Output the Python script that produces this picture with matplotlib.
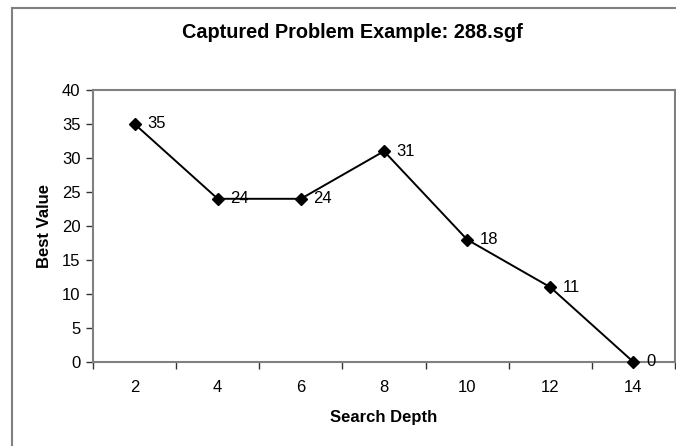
import matplotlib.pyplot as plt
import numpy as np
from matplotlib.lines import Line2D

# Data
depths = ['2', '4', '6', '8', '10', '12', '14']
best_values = [35, 24, 24, 31, 18, 11, 0]
y_ticks = [0, 5, 10, 15, 20, 25, 30, 35, 40]

plt.rcParams['font.family'] = ['Liberation Sans', 'DejaVu Sans']

fig = plt.figure(figsize=(6.76, 4.46), dpi=100)
ax = fig.add_axes([93 / 676, 1 - 362 / 446, 582 / 676, 272 / 446])

# outer chart border (only top and left are inside the picture)
W, H = 676, 446
fig.add_artist(Line2D([12 / W, 12 / W], [0, 1 - 8 / H], color='#808080', lw=1.5,
                      transform=fig.transFigure))
fig.add_artist(Line2D([12 / W, 1], [1 - 8 / H, 1 - 8 / H], color='#808080', lw=1.5,
                      transform=fig.transFigure))

x = np.arange(1, len(depths) + 1)
ax.plot(x, best_values, color='black', lw=1.4, marker='D', markersize=6.5,
        markerfacecolor='black', markeredgecolor='black', clip_on=False, zorder=3)
for xi, v in zip(x, best_values):
    ax.annotate(str(v), (xi, v), xytext=(9, 0), textcoords='offset points',
                va='center', ha='left', fontsize=12, color='black')

ax.set_xlim(0.5, len(depths) + 0.5)
ax.set_ylim(0, 40)
ax.set_yticks(y_ticks)
ax.set_xticks(np.arange(0.5, len(depths) + 1, 1))
ax.set_xticklabels([])
ax.set_xticks(x, minor=True)
ax.set_xticklabels(depths, minor=True)
ax.tick_params(axis='x', which='major', direction='out', length=5, width=1, color='#333333')
ax.tick_params(axis='x', which='minor', length=0, pad=13, labelsize=12)
ax.tick_params(axis='y', direction='out', length=5, width=1, color='#333333', labelsize=12, pad=4)

for s in ax.spines.values():
    s.set_color('#808080')
    s.set_linewidth(1.5)

ax.set_xlabel('Search Depth', fontsize=12, fontweight='bold', labelpad=11)
ax.set_ylabel('Best Value', fontsize=12, fontweight='bold', labelpad=7)
fig.text(352 / W, 1 - 33 / H, 'Captured Problem Example: 288.sgf', ha='center', va='center',
         fontsize=14.3, fontweight='bold')

fig.savefig('out.png', dpi=100)
